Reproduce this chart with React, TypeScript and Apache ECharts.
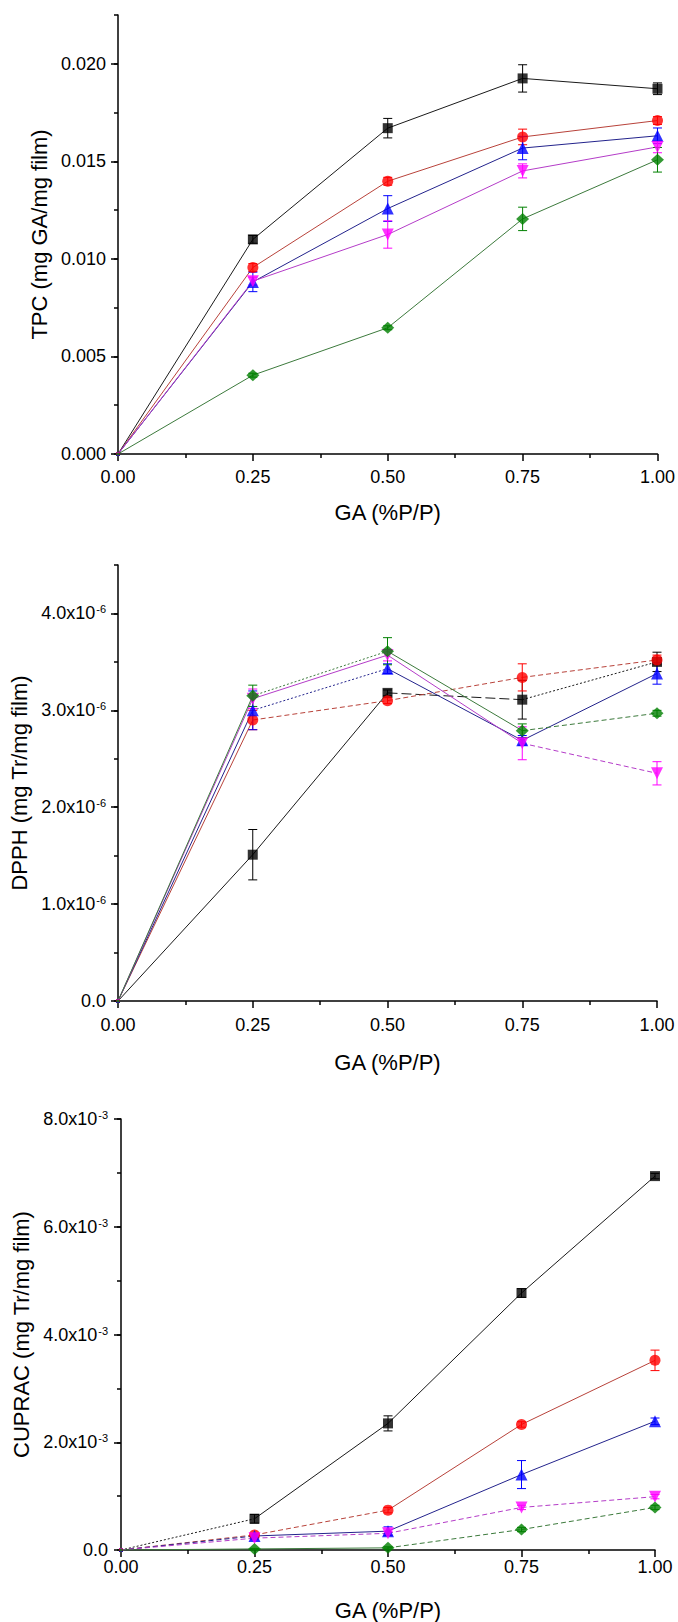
import React, { useEffect, useRef } from "react";
import * as echarts from "echarts";

// ---------- DATA ----------
const gaLevels = [0, 0.25, 0.5, 0.75, 1.0];
const xTitle = "GA (%P/P)";

// TPC (mg GA / mg film)
const tpcBlack = [0, 0.0110, 0.0167, 0.01925, 0.01872];
const tpcRed = [0, 0.00956, 0.01398, 0.01625, 0.01709];
const tpcBlue = [0, 0.00882, 0.01258, 0.01568, 0.01631];
const tpcMagenta = [0, 0.00886, 0.01125, 0.01451, 0.01574];
const tpcGreen = [0, 0.00404, 0.00647, 0.01205, 0.01508];
const tpcBlackErr = [0, 0.0002, 0.0005, 0.0007, 0.0003];
const tpcRedErr = [0, 0.0002, 0.0002, 0.0004, 0.0002];
const tpcBlueErr = [0, 0.0005, 0.00066, 0.0006, 0.0004];
const tpcMagentaErr = [0, 0.0002, 0.0007, 0.00036, 0.0003];
const tpcGreenErr = [0, 0.0001, 0.0001, 0.0006, 0.00063];
const tpcTicks = [0, 0.005, 0.01, 0.015, 0.02];

// DPPH (mg Tr / mg film)
const dpphBlack = [0, 1.51e-6, 3.18e-6, 3.11e-6, 3.50e-6];
const dpphRed = [0, 2.90e-6, 3.10e-6, 3.34e-6, 3.52e-6];
const dpphBlue = [0, 3.00e-6, 3.43e-6, 2.69e-6, 3.38e-6];
const dpphMagenta = [0, 3.12e-6, 3.57e-6, 2.66e-6, 2.35e-6];
const dpphGreen = [0, 3.15e-6, 3.61e-6, 2.79e-6, 2.97e-6];
const dpphBlackErr = [0, 0.26e-6, 0.03e-6, 0.2e-6, 0.1e-6];
const dpphRedErr = [0, 0.1e-6, 0.03e-6, 0.14e-6, 0.05e-6];
const dpphBlueErr = [0, 0.2e-6, 0.05e-6, 0.05e-6, 0.11e-6];
const dpphMagentaErr = [0, 0.1e-6, 0.06e-6, 0.17e-6, 0.12e-6];
const dpphGreenErr = [0, 0.11e-6, 0.14e-6, 0.07e-6, 0.03e-6];
const dpphTicks = [0, 1e-6, 2e-6, 3e-6, 4e-6];

// CUPRAC (mg Tr / mg film)
const cupBlack = [0, 0.58e-3, 2.35e-3, 4.77e-3, 6.94e-3];
const cupRed = [0, 0.28e-3, 0.74e-3, 2.33e-3, 3.52e-3];
const cupBlue = [0, 0.26e-3, 0.35e-3, 1.40e-3, 2.39e-3];
const cupMagenta = [0, 0.22e-3, 0.31e-3, 0.79e-3, 0.99e-3];
const cupGreen = [0, 0.02e-3, 0.04e-3, 0.38e-3, 0.79e-3];
const cupBlackErr = [0, 0.08e-3, 0.14e-3, 0.08e-3, 0.05e-3];
const cupRedErr = [0, 0.03e-3, 0.05e-3, 0.05e-3, 0.19e-3];
const cupBlueErr = [0, 0.03e-3, 0.08e-3, 0.26e-3, 0.06e-3];
const cupMagentaErr = [0, 0.03e-3, 0.03e-3, 0.04e-3, 0.04e-3];
const cupGreenErr = [0, 0.01e-3, 0.02e-3, 0.04e-3, 0.04e-3];
const cupTicks = [0, 2e-3, 4e-3, 6e-3, 8e-3];

// segment line styles (s solid, d dash, l long dash, o dotted)
const tpcSegs = [
  ["s", "s", "s", "s"],
  ["s", "s", "s", "s"],
  ["s", "s", "s", "s"],
  ["s", "s", "s", "s"],
  ["s", "s", "s", "s"],
];
const dpphSegs = [
  ["s", "s", "l", "o"],
  ["s", "d", "d", "d"],
  ["s", "o", "s", "s"],
  ["s", "s", "s", "d"],
  ["s", "o", "s", "d"],
];
const cupSegs = [
  ["o", "s", "s", "s"],
  ["d", "d", "s", "s"],
  ["d", "s", "s", "s"],
  ["d", "d", "d", "d"],
  ["s", "s", "d", "d"],
];

// ---------- STYLE ----------
const FONT = "'Liberation Sans', Arial, sans-serif";
const markerColors = ["#000000", "#ff0000", "#0000ff", "#ff00ff", "#008000"];
const lineColors = ["#1a1a1a", "#b8423a", "#23238c", "#b43cc8", "#3c7a3c"];
const symbols = ["rect", "circle", "triangle", "triangle", "diamond"];
const symbolRotates = [0, 0, 0, 180, 0];
const symbolSizes: any[] = [10, 11, 12, 12, [13, 12]];
const dashMap: Record<string, any> = {
  s: "solid",
  d: [5, 3],
  l: [10, 4],
  o: [2, 2],
};

function buildPanel(
  g: number,
  values: number[][],
  errs: number[][],
  segs: string[][]
) {
  const yIdx = g * 2;
  const out: any[] = [];
  values.forEach((vals, k) => {
    segs[k].forEach((s, i) => {
      out.push({
        type: "line",
        xAxisIndex: g,
        yAxisIndex: yIdx,
        data: [
          [gaLevels[i], vals[i]],
          [gaLevels[i + 1], vals[i + 1]],
        ],
        symbol: "none",
        showSymbol: false,
        silent: true,
        z: 1,
        lineStyle: { color: lineColors[k], width: 1, type: dashMap[s] },
      });
    });
  });
  values.forEach((vals, k) => {
    const color = markerColors[k];
    out.push({
      type: "custom",
      xAxisIndex: g,
      yAxisIndex: yIdx,
      silent: true,
      z: 2,
      data: gaLevels
        .map((x, i) => [x, vals[i], errs[k][i]])
        .filter((d) => d[2] > 0),
      encode: { x: 0, y: 1 },
      renderItem: (params: any, api: any) => {
        const x = api.value(0);
        const y = api.value(1);
        const e = api.value(2);
        const top = api.coord([x, y + e]);
        const bot = api.coord([x, y - e]);
        const w = 4.5;
        const st = { stroke: color, lineWidth: 1 };
        return {
          type: "group",
          children: [
            { type: "line", shape: { x1: top[0], y1: top[1], x2: bot[0], y2: bot[1] }, style: st },
            { type: "line", shape: { x1: top[0] - w, y1: top[1], x2: top[0] + w, y2: top[1] }, style: st },
            { type: "line", shape: { x1: bot[0] - w, y1: bot[1], x2: bot[0] + w, y2: bot[1] }, style: st },
          ],
        };
      },
    });
  });
  values.forEach((vals, k) => {
    out.push({
      type: "scatter",
      xAxisIndex: g,
      yAxisIndex: yIdx,
      silent: true,
      z: 3,
      symbol: symbols[k],
      symbolRotate: symbolRotates[k],
      symbolSize: (v: number[]) => (v[0] === 0 ? 4 : symbolSizes[k]),
      itemStyle: { color: markerColors[k] },
      data: gaLevels.map((x, i) => [x, vals[i]]),
    });
  });
  return out;
}

const axisLineStyle = { color: "#000", width: 1.5 };

function xAxisFor(g: number, labelMargin: number, nameGap: number) {
  return {
    type: "value",
    gridIndex: g,
    min: 0,
    max: 1,
    interval: 0.25,
    axisLine: { show: true, onZero: false, lineStyle: axisLineStyle },
    axisTick: { show: true, inside: false, length: 7, lineStyle: axisLineStyle },
    minorTick: { show: true, splitNumber: 2, length: 4, lineStyle: axisLineStyle },
    splitLine: { show: false },
    minorSplitLine: { show: false },
    axisLabel: {
      margin: labelMargin,
      fontSize: 18,
      color: "#000",
      fontFamily: FONT,
      formatter: (v: number) => v.toFixed(2),
    },
    name: xTitle,
    nameLocation: "middle",
    nameGap,
    nameTextStyle: { fontSize: 22, color: "#000", fontFamily: FONT },
  };
}

function yAxesFor(
  g: number,
  max: number,
  ticks: number[],
  formatter: (v: number) => string,
  name: string,
  nameGap: number,
  labelMargin: number
) {
  const interval = ticks[1] - ticks[0];
  const main = {
    type: "value",
    gridIndex: g,
    position: "left",
    min: 0,
    max,
    interval,
    axisLine: { show: true, onZero: false, lineStyle: axisLineStyle },
    axisTick: { show: true, inside: false, length: 7, lineStyle: axisLineStyle, customValues: ticks },
    splitLine: { show: false },
    axisLabel: {
      margin: labelMargin,
      fontSize: 18,
      color: "#000",
      fontFamily: FONT,
      formatter: (v: number) => {
        const r = v / interval;
        if (Math.abs(r - Math.round(r)) > 1e-6) return "";
        return formatter(v);
      },
      rich: {
        m: { fontSize: 18, color: "#000", fontFamily: FONT },
        s: { fontSize: 11, color: "#000", fontFamily: FONT, verticalAlign: "top", padding: [0, 0, 8, 1] },
      },
    },
    name,
    nameLocation: "middle",
    nameGap,
    nameTextStyle: { fontSize: 22, color: "#000", fontFamily: FONT },
  };
  const minor = {
    type: "value",
    gridIndex: g,
    position: "left",
    min: 0,
    max,
    interval: interval / 2,
    axisLine: { show: false },
    axisTick: { show: true, inside: false, length: 4, lineStyle: axisLineStyle },
    axisLabel: { show: false },
    splitLine: { show: false },
  };
  return [main, minor];
}

const sciFmt = (scale: number, exp: string) => (v: number) =>
  v === 0 ? "0.0" : `{m|${(v / scale).toFixed(1)}x10}{s|${exp}}`;

export default function App() {
  const ref = useRef<HTMLDivElement>(null);
  useEffect(() => {
    document.body.style.margin = "0";
    if (!ref.current) return;
    const chart = echarts.init(ref.current, undefined, { renderer: "svg" });
    const option: any = {
      animation: false,
      backgroundColor: "#ffffff",
      grid: [
        { left: 118, top: 15, width: 540, height: 439 },
        { left: 118, top: 565, width: 539, height: 436 },
        { left: 121, top: 1119, width: 534, height: 433 },
      ],
      xAxis: [xAxisFor(0, 14, 47), xAxisFor(1, 15, 50), xAxisFor(2, 8, 49)],
      yAxis: [
        ...yAxesFor(0, 0.0225, tpcTicks, (v) => v.toFixed(3), "TPC (mg GA/mg film)", 66, 12),
        ...yAxesFor(1, 4.5e-6, dpphTicks, sciFmt(1e-6, "-6"), "DPPH (mg Tr/mg film)", 83, 12),
        ...yAxesFor(2, 8e-3, cupTicks, sciFmt(1e-3, "-3"), "CUPRAC (mg Tr/mg film)", 84, 13),
      ],
      series: [
        ...buildPanel(
          0,
          [tpcBlack, tpcRed, tpcBlue, tpcMagenta, tpcGreen],
          [tpcBlackErr, tpcRedErr, tpcBlueErr, tpcMagentaErr, tpcGreenErr],
          tpcSegs
        ),
        ...buildPanel(
          1,
          [dpphBlack, dpphRed, dpphBlue, dpphMagenta, dpphGreen],
          [dpphBlackErr, dpphRedErr, dpphBlueErr, dpphMagentaErr, dpphGreenErr],
          dpphSegs
        ),
        ...buildPanel(
          2,
          [cupBlack, cupRed, cupBlue, cupMagenta, cupGreen],
          [cupBlackErr, cupRedErr, cupBlueErr, cupMagentaErr, cupGreenErr],
          cupSegs
        ),
      ],
    };
    chart.setOption(option);
    return () => chart.dispose();
  }, []);
  return <div ref={ref} style={{ width: 678, height: 1622 }} />;
}
